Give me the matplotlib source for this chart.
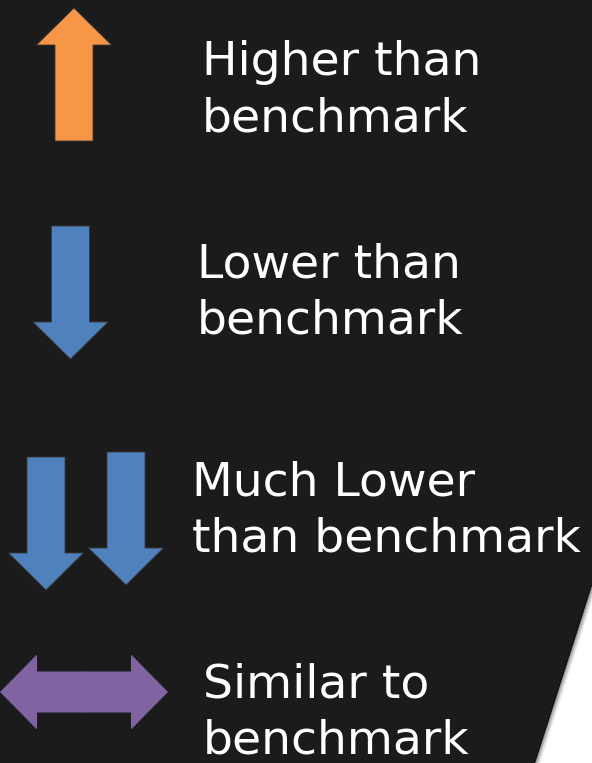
import matplotlib
matplotlib.use('Agg')
import matplotlib.pyplot as plt
from matplotlib.patches import Polygon

# legend entries: label lines, arrow kind, colour
labels = [['Higher than', 'benchmark'],
          ['Lower than', 'benchmark'],
          ['Much Lower', 'than benchmark'],
          ['Similar to', 'benchmark']]
kinds = ['up', 'down', 'double_down', 'both']
colors = ['#F79646', '#4F81BD', '#4F81BD', '#8064A2']

bg = '#1b1b1b'

fig = plt.figure(figsize=(5.92, 7.63), dpi=100, facecolor=bg)
ax = fig.add_axes([0, 0, 1, 1])
ax.set_facecolor(bg)
ax.set_xlim(0, 592)
ax.set_ylim(763, 0)
ax.axis('off')

# white corner at the bottom right, with a soft shadow on its edge
ax.add_patch(Polygon([(592, 585), (592, 763), (535, 763)], closed=True,
                     facecolor='white', edgecolor='none'))
for i, a in enumerate([0.35, 0.22, 0.12, 0.05]):
    ax.plot([592 + i * 1.5, 535 + i * 1.5], [585, 763], color='black',
            alpha=a, lw=1.6, solid_capstyle='butt')
ax.add_patch(Polygon([(592, 585), (535, 763), (0, 763), (0, 585)], closed=True,
                     facecolor=bg, edgecolor='none'))


def arrow(x, y, dx, dy, c, w=38, edge='#3a3a3a'):
    ax.arrow(x, y, dx, dy, width=w, head_width=75, head_length=37,
             length_includes_head=True, facecolor=c, edgecolor=edge,
             linewidth=0.6, zorder=3)


for kind, c in zip(kinds, colors):
    if kind == 'up':
        arrow(74, 141, 0, -133, c)
    elif kind == 'down':
        arrow(70.5, 226, 0, 133, c)
    elif kind == 'double_down':
        arrow(46, 457, 0, 133, c)
        arrow(126, 452, 0, 133, c)
    else:
        # two halves meeting in the middle, no outline so no seam
        arrow(84.5, 692, -84.5, 0, c, w=41, edge='none')
        arrow(83.5, 692, 84.5, 0, c, w=41, edge='none')

text_x = [202, 197, 192, 203]
text_y = [75, 277, 495, 697]
for (l1, l2), x, y in zip(labels, text_x, text_y):
    ax.text(x, y, l1, color='white', fontsize=34, va='baseline', ha='left',
            family='DejaVu Sans')
    ax.text(x, y + 56, l2, color='white', fontsize=34, va='baseline', ha='left',
            family='DejaVu Sans')

fig.savefig('out.png', dpi=100, facecolor=bg)
